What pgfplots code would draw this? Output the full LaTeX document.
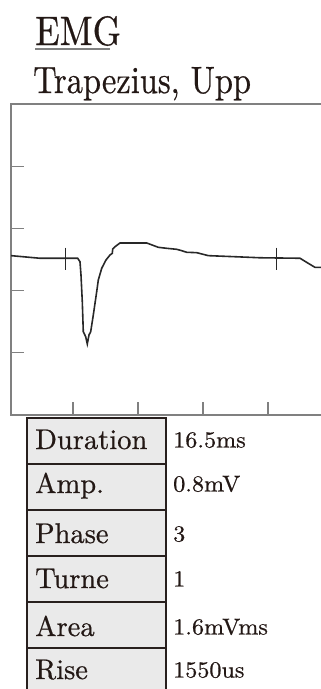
\documentclass[border=0pt]{standalone}
\usepackage{fontspec}
\setmainfont{lmroman10-regular.otf}[FakeBold=0.6]
\usepackage{pgfplots}
\pgfplotsset{compat=1.18}
\usepackage{graphicx}
\definecolor{axgray}{RGB}{128,128,128}
\definecolor{sig}{RGB}{40,40,40}
\definecolor{txt}{RGB}{35,24,21}
\definecolor{cellgray}{RGB}{234,234,234}
\definecolor{bord}{RGB}{40,32,30}
\begin{document}
\begin{tikzpicture}[x=1pt,y=1pt]
\useasboundingbox (0,0) rectangle (321,-689);
\clip (0,0) rectangle (321,-689);
% title
\node[anchor=base west, inner sep=0, text=txt] at (35,-45) {\scalebox{1}[1.14]{\fontsize{36}{40}\selectfont EMG}};
\draw[axgray, line width=2pt] (35,-49.3) -- (110,-49.3);
\node[anchor=base west, inner sep=0, text=txt] at (33,-93) {\scalebox{1}[1.17]{\fontsize{32.5}{36}\selectfont Trapezius, Upp}};
\begin{axis}[
  x=13pt, y=124.4pt,
  anchor=south west, at={(11pt,-415pt)},
  xmin=0.231, xmax=25, ymin=-1.5, ymax=1.0,
  axis line style={draw=axgray, line width=1.3pt},
  xtick={5,10,15,20}, ytick={-1,-0.5,0,0.5},
  xticklabels={}, yticklabels={},
  tick align=inside, xtick pos=bottom, ytick pos=left,
  major tick length=13pt,
  tick style={draw=axgray, line width=1.3pt},
]
\addplot[sig, line width=1.6pt, mark=none] coordinates {
(0.231,-0.219) (2.462,-0.240) (5.362,-0.240) (5.538,-0.268) (5.615,-0.375)
(5.715,-0.589) (5.792,-0.830) (5.977,-0.871) (6.100,-0.929) (6.231,-0.857)
(6.362,-0.830) (6.562,-0.696) (6.823,-0.509) (6.946,-0.415) (7.208,-0.321)
(7.538,-0.254) (7.846,-0.214) (8.023,-0.200) (8.054,-0.166) (8.231,-0.147)
(8.615,-0.117) (10.669,-0.117) (11.562,-0.152) (12.208,-0.160) (12.977,-0.168)
(13.362,-0.179) (13.746,-0.192) (14.515,-0.195) (15.408,-0.219) (17.331,-0.227)
(19.385,-0.236) (22.462,-0.240) (23.231,-0.289) (23.615,-0.313) (24.3,-0.313)
};
\addplot[sig, line width=1.5pt, mark=none] coordinates {(4.438,-0.155) (4.438,-0.334)};
\addplot[sig, line width=1.5pt, mark=none] coordinates {(20.669,-0.155) (20.669,-0.334)};
\end{axis}
% table
\foreach \top/\bot in {417.7/463.8, 463.8/509.9, 509.9/556, 556/602.1, 602.1/648.2, 648.2/694.3}{
  \draw[fill=cellgray, draw=bord, line width=2pt] (27.3,-\top) rectangle (165.7,-\bot);
}
\foreach \bl/\lab/\val in {449/Duration/16.5ms, 493/Amp./0.8mV, 543/Phase/3, 588/Turne/1, 636/Area/1.6mVms, 679/Rise/1550us}{
  \node[anchor=base west, inner sep=0, text=txt] at (35,-\bl) {\fontsize{28.5}{32}\selectfont \lab};
  \node[anchor=base west, inner sep=0, text=txt] at (173,-\bl+1.5) {\scalebox{1.05}[1]{\fontsize{23}{27}\selectfont \val}};
}
\end{tikzpicture}
\end{document}
